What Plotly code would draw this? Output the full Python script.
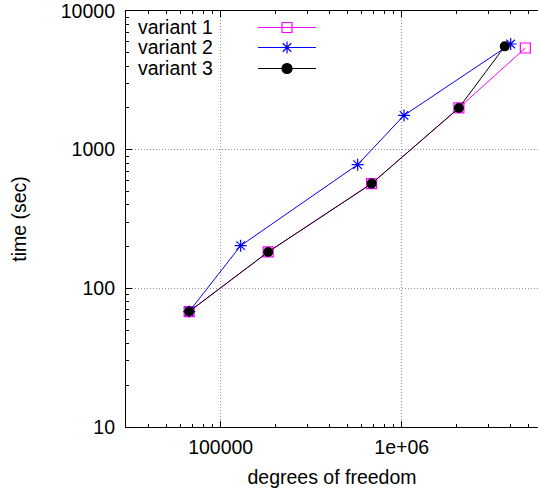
import plotly.graph_objects as go

# Degrees of freedom and run time (sec) for each variant
dof_v1 = [67000, 183000, 682000, 2070000, 4820000]
time_v1 = [68, 183, 569, 2000, 5410]

dof_v2 = [67000, 129000, 571000, 1030000, 4000000]
time_v2 = [68, 203, 780, 1766, 5780]

dof_v3 = [67000, 183000, 682000, 2070000, 3710000]
time_v3 = [68, 183, 569, 2000, 5560]

names = ["variant 1", "variant 2", "variant 3"]
colors = ["#ff00ff", "#0000ff", "#000000"]

x_major = [100000, 1000000]
x_major_text = ["100000", "1e+06"]
x_minor = [m * 10 ** e for e in (4, 5, 6) for m in range(2, 10) if 30000 <= m * 10 ** e <= 5600000]
y_major = [10, 100, 1000, 10000]
y_major_text = ["10", "100", "1000", "10000"]
y_minor = [m * 10 ** e for e in (1, 2, 3) for m in range(2, 10)]

FONT = "Liberation Sans, Arial, sans-serif"
FS = 19.5

fig = go.Figure()

fig.add_trace(go.Scatter(
    x=dof_v1, y=time_v1, mode="lines+markers", name=names[0],
    line=dict(color=colors[0], width=1),
    marker=dict(symbol="square-open", size=10, color=colors[0], line=dict(width=1.2)),
))
fig.add_trace(go.Scatter(
    x=dof_v2, y=time_v2, mode="lines+markers", name=names[1],
    line=dict(color=colors[1], width=1),
    marker=dict(symbol="asterisk-open", size=10, color=colors[1], line=dict(width=1.2, color=colors[1])),
))
fig.add_trace(go.Scatter(
    x=dof_v3, y=time_v3, mode="lines+markers", name=names[2],
    line=dict(color=colors[2], width=1),
    marker=dict(symbol="circle", size=10, color=colors[2]),
))

# Key: label on the left, line sample with marker on the right
key_y = [0.96034, 0.91226, 0.86178]
key_x0, key_x1, key_xm = 0.3204, 0.4612, 0.3908
symbols = ["square-open", "asterisk-open", "circle"]

fig.add_shape(type="rect", xref="paper", yref="paper", x0=0.003, x1=0.475, y0=0.841, y1=0.997,
              fillcolor="white", line=dict(width=0), layer="between")
for i in range(3):
    fig.add_trace(go.Scatter(
        x=[key_x0, key_x1], y=[key_y[i], key_y[i]], xaxis="x2", yaxis="y2", mode="lines",
        showlegend=False, hoverinfo="skip", line=dict(color=colors[i], width=1.1),
    ))
    fig.add_trace(go.Scatter(
        x=[key_xm], y=[key_y[i]], xaxis="x2", yaxis="y2", mode="markers", showlegend=False,
        hoverinfo="skip",
        marker=dict(symbol=symbols[i], size=10, color=colors[i], line=dict(width=1.2, color=colors[i])),
    ))
    fig.add_annotation(x=0.024, y=key_y[i], xref="paper", yref="paper", text=names[i],
                       showarrow=False, xanchor="left", yanchor="middle",
                       font=dict(family=FONT, size=FS, color="black"))

axis_common = dict(
    type="log", showline=True, linecolor="black", linewidth=1.2,
    ticks="inside", ticklen=6, tickwidth=1, tickcolor="black",
    showgrid=True, gridcolor="#909090", gridwidth=1, griddash="1px,2px",
    tickfont=dict(family=FONT, size=FS, color="black"),
    ticklabeloverflow="allow",
    zeroline=False,
)

fig.update_layout(
    width=538, height=489,
    margin=dict(l=126, r=0, t=11, b=62),
    paper_bgcolor="white", plot_bgcolor="white",
    showlegend=False,
    font=dict(family=FONT, size=FS, color="black"),
    xaxis=dict(
        **axis_common,
        range=[4.4771, 6.753],
        tickmode="array", tickvals=x_major, ticktext=x_major_text,
        mirror="allticks",
        ticklabelstandoff=2,
        minor=dict(tickmode="array", tickvals=x_minor, ticks="inside", ticklen=3,
                   tickcolor="black", showgrid=False),
        title=dict(text="degrees of freedom", font=dict(family=FONT, size=FS), standoff=13),
    ),
    yaxis=dict(
        **axis_common,
        range=[1, 4],
        tickmode="array", tickvals=y_major, ticktext=y_major_text,
        ticklabelstandoff=6,
        minor=dict(tickmode="array", tickvals=y_minor, ticks="inside", ticklen=3,
                   tickcolor="black", showgrid=False),
        title=dict(text="time (sec)", font=dict(family=FONT, size=FS), standoff=28),
    ),
    xaxis2=dict(overlaying="x", range=[0, 1], visible=False, fixedrange=True),
    yaxis2=dict(overlaying="y", range=[0, 1], visible=False, fixedrange=True),
)

fig.write_html("out.html")
